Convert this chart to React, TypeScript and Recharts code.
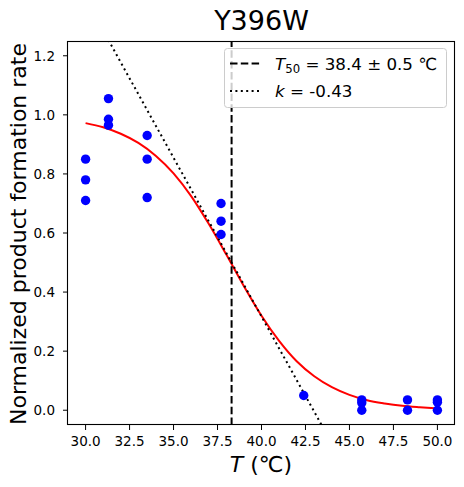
import { ComposedChart, Line, ReferenceLine, Scatter, XAxis, YAxis } from "recharts";

// measured points (T in °C, normalized rate)
const sampleTemps = [30, 30, 30, 31.3, 31.3, 31.3, 33.5, 33.5, 33.5, 37.7, 37.7, 37.7, 42.4, 45.7, 45.7, 45.7, 48.3, 48.3, 50, 50, 50];
const sampleRates = [0.85, 0.78, 0.71, 1.055, 0.985, 0.965, 0.93, 0.85, 0.72, 0.7, 0.64, 0.595, 0.05, 0.035, 0.025, 0.0, 0.035, 0.0, 0.035, 0.027, 0.0];

// fitted curve
const fitTemps = [30, 31, 32, 33, 34, 35, 36, 37, 38, 39, 40, 41, 42, 43, 44, 45, 46, 47, 48, 49, 50];
const fitRates = [0.972, 0.958, 0.936, 0.905, 0.861, 0.802, 0.725, 0.631, 0.527, 0.42, 0.32, 0.235, 0.166, 0.115, 0.078, 0.052, 0.034, 0.023, 0.015, 0.01, 0.006];

// tangent at T50
const tangentTemps = [31, 44];
const tangentRates = [1.285, -0.113];

const t50 = 38.3;

const xTicks = [30, 32.5, 35, 37.5, 40, 42.5, 45, 47.5, 50];
const yTicks = [0, 0.2, 0.4, 0.6, 0.8, 1.0, 1.2];

const samples = sampleTemps.map((t, i) => ({ t, rate: sampleRates[i] }));
const fit = fitTemps.map((t, i) => ({ t, rate: fitRates[i] }));
const tangent = tangentTemps.map((t, i) => ({ t, rate: tangentRates[i] }));

const font = "DejaVu Sans";
const tickStyle = { fill: "#000", fontSize: 13.5, fontFamily: font };
const lw = 2;
const dashed = "7.5 3.3";
const dotted = "2 3.4";

const Dot = (props: any) => <circle cx={props.cx} cy={props.cy} r={4.7} fill="#0000ff" />;

export default function App() {
  return (
    <div style={{ position: "absolute", left: 0, top: 0, width: 464, height: 487, background: "#fff" }}>
      <ComposedChart width={464} height={487} margin={{ top: 41, right: 9, bottom: 32, left: 8 }}>
        <XAxis
          type="number"
          dataKey="t"
          domain={[29, 51]}
          ticks={xTicks}
          interval={0}
          allowDataOverflow
          tickFormatter={(v: number) => v.toFixed(1)}
          axisLine={false}
          tickLine={{ stroke: "#000" }}
          tickSize={5}
          tickMargin={6}
          tick={tickStyle}
          height={30}
        />
        <YAxis
          type="number"
          dataKey="rate"
          domain={[-0.05, 1.25]}
          ticks={yTicks}
          interval={0}
          allowDataOverflow
          tickFormatter={(v: number) => v.toFixed(1)}
          axisLine={false}
          tickLine={{ stroke: "#000" }}
          tickSize={5}
          tickMargin={8}
          tick={tickStyle}
          width={60}
        />
        <Scatter data={samples} shape={Dot} isAnimationActive={false} />
        <Line data={fit} dataKey="rate" type="monotone" stroke="#ff0000" strokeWidth={lw} dot={false} activeDot={false} isAnimationActive={false} />
        <ReferenceLine x={t50} stroke="#000" strokeWidth={lw} strokeDasharray={dashed} />
        <Line data={tangent} dataKey="rate" type="linear" stroke="#000" strokeWidth={lw} strokeDasharray={dotted} dot={false} activeDot={false} isAnimationActive={false} />
      </ComposedChart>

      <svg width={464} height={487} style={{ position: "absolute", left: 0, top: 0, pointerEvents: "none" }} fontFamily={font}>
        <rect x={67.5} y={41.5} width={387} height={383} fill="none" stroke="#000" strokeWidth={1.1} />
        <text x={261.5} y={30} textAnchor="middle" fontSize={27}>Y396W</text>
        <text x={261} y={472} textAnchor="middle" fontSize={22}>
          <tspan fontStyle="italic">T</tspan> (℃)
        </text>
        <text x={26} y={234} textAnchor="middle" fontSize={22} transform="rotate(-90 26 234)">
          Normalized product formation rate
        </text>

        <rect x={224.5} y={48.5} width={222} height={59} rx={3} fill="#fff" fillOpacity={0.8} stroke="#cccccc" strokeWidth={1} />
        <line x1={230} y1={63.5} x2={261} y2={63.5} stroke="#000" strokeWidth={lw} strokeDasharray={dashed} />
        <line x1={230} y1={91} x2={261} y2={91} stroke="#000" strokeWidth={lw} strokeDasharray={dotted} />
        <text x={275} y={69.5} fontSize={16.7}>
          <tspan fontStyle="italic">T</tspan>
          <tspan fontSize={11.7} dy={3}>50</tspan>
          <tspan dy={-3}> = 38.4 ± 0.5 ℃</tspan>
        </text>
        <text x={275} y={97} fontSize={16.7}>
          <tspan fontStyle="italic">k</tspan> = -0.43
        </text>
      </svg>
    </div>
  );
}
